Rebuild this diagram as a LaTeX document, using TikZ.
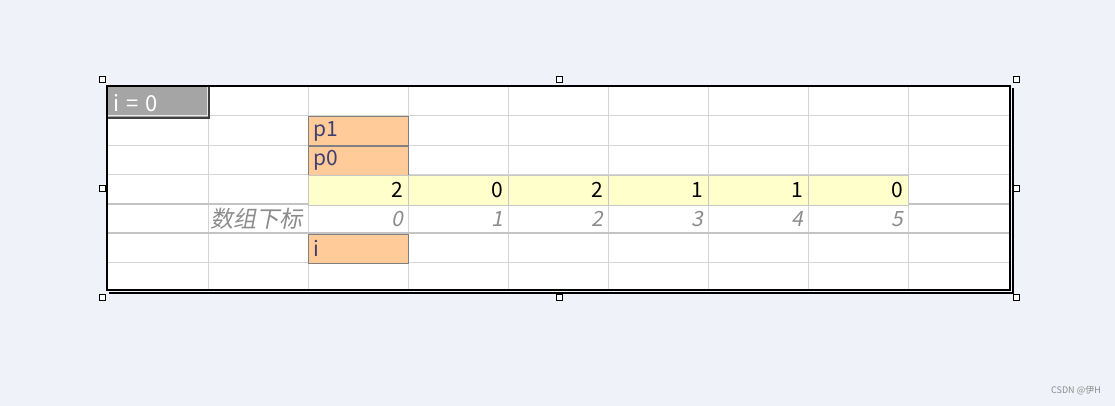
\documentclass[tikz,border=0pt]{standalone}
\usepackage{fontspec}
\setmainfont{Noto Sans CJK SC}
\newfontfamily\cjkit[FakeSlant=0.2]{Noto Sans CJK SC}
\definecolor{bgc}{HTML}{EFF2F8}
\definecolor{gridc}{HTML}{D4D4D4}
\definecolor{thickc}{HTML}{C4C4C4}
\definecolor{orangec}{HTML}{FFCC99}
\definecolor{yellowc}{HTML}{FFFFCC}
\definecolor{bluetext}{HTML}{3F3F76}
\definecolor{idxc}{HTML}{8C8C8C}
\definecolor{headc}{HTML}{A5A5A5}
\definecolor{headb}{HTML}{3F3F3F}
\tikzset{
  cell/.style={anchor=north west, minimum height=29pt, inner ysep=0pt, inner xsep=5pt, text width=90pt, font=\fontsize{21}{21}\selectfont},
  ocell/.style={cell, fill=orangec, draw=black!50, text=bluetext, align=left},
  ycell/.style={cell, fill=yellowc, draw=black!22, text=black, align=right},
  icell/.style={cell, text=idxc, align=right, font=\fontsize{21}{21}\selectfont\cjkit},
  handle/.style={draw=black, fill=white, minimum size=6pt, inner sep=0pt, line width=0.8pt},
  gridline/.style={draw=gridc, line width=1pt},
  thickline/.style={draw=thickc, line width=2.2pt}
}
\newcommand{\lowr}[1]{\raisebox{-1.5pt}{#1}}
\begin{document}
\begin{tikzpicture}[x=1pt,y=-1pt]
\useasboundingbox (0,0) rectangle (1115,406);
\fill[bgc] (0,0) rectangle (1115,406);
\fill[white] (108,87) rectangle (1010,290);
% grid
\foreach \x in {208,308,...,908} \draw[gridline] (\x,87) -- (\x,290);
\foreach \y in {116,146,175,262} \draw[gridline] (108,\y) -- (1010,\y);
\draw[thickline] (108,204) -- (1010,204);
\draw[thickline] (108,233) -- (1010,233);
% header
\node[anchor=north west, minimum width=101pt, minimum height=31pt, inner sep=0pt, fill=headc] (head) at (108,87) {};
\draw[headb, line width=2pt] (head.north east) -- (head.south east) -- (head.south west);
\draw[white!75!headc, line width=0.8pt] ([xshift=-2.5pt]head.north east) -- ([xshift=-2.5pt,yshift=2.5pt]head.south east) -- ([yshift=2.5pt]head.south west);
\node[anchor=west, text=white, font=\fontsize{22}{22}\selectfont, inner sep=0pt] (headtxt) at (113,103) {i\hspace{7pt}=\hspace{7pt}0};
% pointers
\node[ocell] (p1) at (308,116.5) {\lowr{p1}};
\node[ocell] (p0) at (308,146) {\lowr{p0}};
\node[ocell] (iv) at (308,233.5) {\lowr{i}};
% values
\foreach \v [count=\k from 0] in {2,0,2,1,1,0}
  \node[ycell] (v\k) at ({308+100*\k},175.5) {\lowr{\v}};
% indices
\node[icell, anchor=north east, text width=96pt, font=\fontsize{23}{23}\selectfont\cjkit] (lab) at (308,204.5) {\lowr{数组下标}};
\foreach \k in {0,...,5}
  \node[icell] (i\k) at ({308+100*\k},204.5) {\lowr{\k}};
% frame
\draw[black, line width=2pt] (107,86) rectangle (1010,290);
\draw[black, line width=1.2pt] (109,293) -- (1013,293) -- (1013,88);
% handles
\foreach \p [count=\n] in {(102,79),(559,79),(1016,79),(102,188),(1016,188),(102,297),(559,297),(1016,297)}
  \node[handle] (h\n) at \p {};
% watermark
\node[anchor=east, text=black!45, font=\fontsize{9}{9}\selectfont, inner sep=0pt] (wm) at (1101,391) {CSDN @伊H};
\end{tikzpicture}
\end{document}
